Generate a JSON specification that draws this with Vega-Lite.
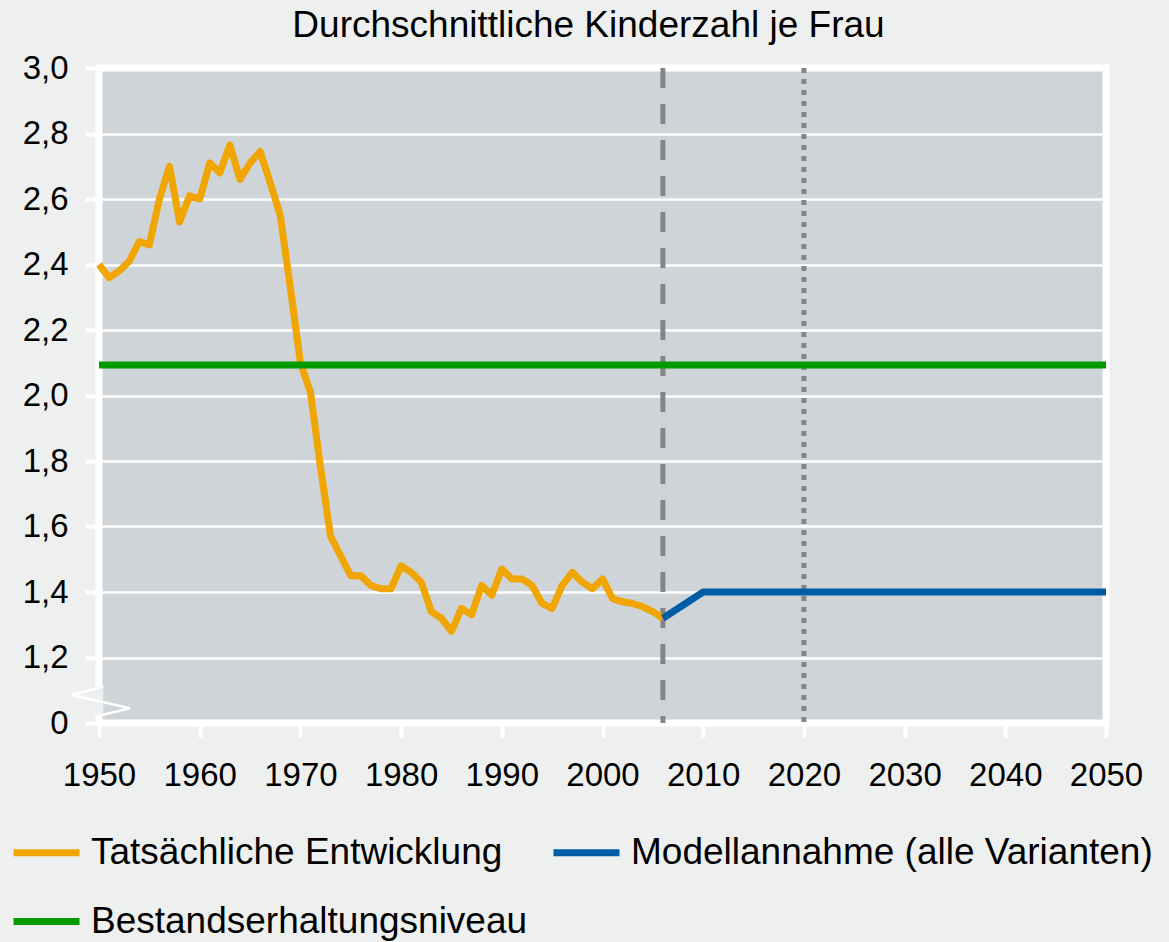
{
  "$schema": "https://vega.github.io/schema/vega-lite/v6.json",
  "width": 1007,
  "height": 655,
  "autosize": {"type": "none"},
  "padding": {"left": 99, "top": 68, "right": 63, "bottom": 219},
  "background": "#EEF0EF",
  "title": {
    "text": "Durchschnittliche Kinderzahl je Frau",
    "fontSize": 37,
    "font": "Liberation Sans",
    "fontWeight": "normal",
    "color": "#000000",
    "anchor": "middle",
    "frame": "group",
    "offset": 7,
    "dx": -14
  },
  "config": {
    "font": "Liberation Sans",
    "view": {"fill": "#CFD4D8", "stroke": "#FFFFFF", "strokeWidth": 7},
    "axis": {"labelFont": "Liberation Sans", "labelColor": "#000000", "title": null}
  },
  "datasets": {
    "series": [
      {"jahr": 1950, "wert": 2.40, "reihe": "Tatsächliche Entwicklung"},
      {"jahr": 1951, "wert": 2.36, "reihe": "Tatsächliche Entwicklung"},
      {"jahr": 1952, "wert": 2.38, "reihe": "Tatsächliche Entwicklung"},
      {"jahr": 1953, "wert": 2.41, "reihe": "Tatsächliche Entwicklung"},
      {"jahr": 1954, "wert": 2.47, "reihe": "Tatsächliche Entwicklung"},
      {"jahr": 1955, "wert": 2.46, "reihe": "Tatsächliche Entwicklung"},
      {"jahr": 1956, "wert": 2.60, "reihe": "Tatsächliche Entwicklung"},
      {"jahr": 1957, "wert": 2.70, "reihe": "Tatsächliche Entwicklung"},
      {"jahr": 1958, "wert": 2.53, "reihe": "Tatsächliche Entwicklung"},
      {"jahr": 1959, "wert": 2.61, "reihe": "Tatsächliche Entwicklung"},
      {"jahr": 1960, "wert": 2.60, "reihe": "Tatsächliche Entwicklung"},
      {"jahr": 1961, "wert": 2.71, "reihe": "Tatsächliche Entwicklung"},
      {"jahr": 1962, "wert": 2.68, "reihe": "Tatsächliche Entwicklung"},
      {"jahr": 1963, "wert": 2.765, "reihe": "Tatsächliche Entwicklung"},
      {"jahr": 1964, "wert": 2.66, "reihe": "Tatsächliche Entwicklung"},
      {"jahr": 1965, "wert": 2.71, "reihe": "Tatsächliche Entwicklung"},
      {"jahr": 1966, "wert": 2.745, "reihe": "Tatsächliche Entwicklung"},
      {"jahr": 1967, "wert": 2.65, "reihe": "Tatsächliche Entwicklung"},
      {"jahr": 1968, "wert": 2.55, "reihe": "Tatsächliche Entwicklung"},
      {"jahr": 1969, "wert": 2.33, "reihe": "Tatsächliche Entwicklung"},
      {"jahr": 1970, "wert": 2.10, "reihe": "Tatsächliche Entwicklung"},
      {"jahr": 1971, "wert": 2.01, "reihe": "Tatsächliche Entwicklung"},
      {"jahr": 1972, "wert": 1.78, "reihe": "Tatsächliche Entwicklung"},
      {"jahr": 1973, "wert": 1.57, "reihe": "Tatsächliche Entwicklung"},
      {"jahr": 1974, "wert": 1.51, "reihe": "Tatsächliche Entwicklung"},
      {"jahr": 1975, "wert": 1.45, "reihe": "Tatsächliche Entwicklung"},
      {"jahr": 1976, "wert": 1.45, "reihe": "Tatsächliche Entwicklung"},
      {"jahr": 1977, "wert": 1.42, "reihe": "Tatsächliche Entwicklung"},
      {"jahr": 1978, "wert": 1.41, "reihe": "Tatsächliche Entwicklung"},
      {"jahr": 1979, "wert": 1.41, "reihe": "Tatsächliche Entwicklung"},
      {"jahr": 1980, "wert": 1.48, "reihe": "Tatsächliche Entwicklung"},
      {"jahr": 1981, "wert": 1.46, "reihe": "Tatsächliche Entwicklung"},
      {"jahr": 1982, "wert": 1.43, "reihe": "Tatsächliche Entwicklung"},
      {"jahr": 1983, "wert": 1.34, "reihe": "Tatsächliche Entwicklung"},
      {"jahr": 1984, "wert": 1.32, "reihe": "Tatsächliche Entwicklung"},
      {"jahr": 1985, "wert": 1.28, "reihe": "Tatsächliche Entwicklung"},
      {"jahr": 1986, "wert": 1.35, "reihe": "Tatsächliche Entwicklung"},
      {"jahr": 1987, "wert": 1.33, "reihe": "Tatsächliche Entwicklung"},
      {"jahr": 1988, "wert": 1.42, "reihe": "Tatsächliche Entwicklung"},
      {"jahr": 1989, "wert": 1.39, "reihe": "Tatsächliche Entwicklung"},
      {"jahr": 1990, "wert": 1.47, "reihe": "Tatsächliche Entwicklung"},
      {"jahr": 1991, "wert": 1.44, "reihe": "Tatsächliche Entwicklung"},
      {"jahr": 1992, "wert": 1.44, "reihe": "Tatsächliche Entwicklung"},
      {"jahr": 1993, "wert": 1.42, "reihe": "Tatsächliche Entwicklung"},
      {"jahr": 1994, "wert": 1.365, "reihe": "Tatsächliche Entwicklung"},
      {"jahr": 1995, "wert": 1.35, "reihe": "Tatsächliche Entwicklung"},
      {"jahr": 1996, "wert": 1.42, "reihe": "Tatsächliche Entwicklung"},
      {"jahr": 1997, "wert": 1.46, "reihe": "Tatsächliche Entwicklung"},
      {"jahr": 1998, "wert": 1.43, "reihe": "Tatsächliche Entwicklung"},
      {"jahr": 1999, "wert": 1.41, "reihe": "Tatsächliche Entwicklung"},
      {"jahr": 2000, "wert": 1.44, "reihe": "Tatsächliche Entwicklung"},
      {"jahr": 2001, "wert": 1.38, "reihe": "Tatsächliche Entwicklung"},
      {"jahr": 2002, "wert": 1.37, "reihe": "Tatsächliche Entwicklung"},
      {"jahr": 2003, "wert": 1.365, "reihe": "Tatsächliche Entwicklung"},
      {"jahr": 2004, "wert": 1.355, "reihe": "Tatsächliche Entwicklung"},
      {"jahr": 2005, "wert": 1.34, "reihe": "Tatsächliche Entwicklung"},
      {"jahr": 2006, "wert": 1.32, "reihe": "Tatsächliche Entwicklung"},
      {"jahr": 2006, "wert": 1.32, "reihe": "Modellannahme (alle Varianten)"},
      {"jahr": 2010, "wert": 1.40, "reihe": "Modellannahme (alle Varianten)"},
      {"jahr": 2050, "wert": 1.40, "reihe": "Modellannahme (alle Varianten)"},
      {"jahr": 1950, "wert": 2.093, "reihe": "Bestandserhaltungsniveau"},
      {"jahr": 2050, "wert": 2.093, "reihe": "Bestandserhaltungsniveau"}
    ],
    "vlines": [
      {"jahr": 2006, "art": "gestrichelt"},
      {"jahr": 2020, "art": "gepunktet"}
    ],
    "bruchflaeche": [
      {"x0": 1949.55, "x1": 1950.42, "y0": 1.019, "y1": 1.112}
    ],
    "bruchlinie": [
      {"x": 1950.43, "y": 1.111},
      {"x": 1947.29, "y": 1.0855},
      {"x": 1953.08, "y": 1.045},
      {"x": 1949.6, "y": 1.019}
    ]
  },
  "layer": [
    {
      "data": {"name": "vlines"},
      "mark": {"type": "rule", "color": "#858585", "strokeWidth": 5},
      "encoding": {
        "x": {
          "field": "jahr",
          "type": "quantitative",
          "scale": {"domain": [1950, 2050], "nice": false, "zero": false},
          "axis": {
            "values": [1950, 1960, 1970, 1980, 1990, 2000, 2010, 2020, 2030, 2040, 2050],
            "format": "d",
            "grid": false,
            "domain": false,
            "tickColor": "#FFFFFF",
            "tickWidth": 4,
            "tickSize": 14,
            "labelFontSize": 33,
            "labelPadding": 22,
            "labelFlush": false,
            "labelOverlap": false
          }
        },
        "strokeDash": {
          "field": "art",
          "type": "nominal",
          "scale": {"domain": ["gestrichelt", "gepunktet"], "range": [[20, 16], [5, 6]]},
          "legend": null
        }
      }
    },
    {
      "data": {"name": "series"},
      "mark": {"type": "line", "strokeWidth": 7, "strokeJoin": "round"},
      "encoding": {
        "x": {"field": "jahr", "type": "quantitative", "scale": {"domain": [1950, 2050], "nice": false, "zero": false}},
        "y": {
          "field": "wert",
          "type": "quantitative",
          "scale": {"domain": [1, 3], "nice": false, "zero": false},
          "axis": {
            "values": [1, 1.2, 1.4, 1.6, 1.8, 2.0, 2.2, 2.4, 2.6, 2.8, 3.0],
            "labelExpr": "datum.value == 1 ? '0' : replace(format(datum.value, '.1f'), '.', ',')",
            "grid": true,
            "gridColor": "#FFFFFF",
            "gridWidth": 2.5,
            "gridOpacity": 1,
            "domain": false,
            "tickColor": "#FFFFFF",
            "tickWidth": 4,
            "tickSize": 14,
            "labelFontSize": 33,
            "labelPadding": 17,
            "labelOverlap": false
          }
        },
        "color": {
          "field": "reihe",
          "type": "nominal",
          "scale": {
            "domain": ["Tatsächliche Entwicklung", "Modellannahme (alle Varianten)", "Bestandserhaltungsniveau"],
            "range": ["#F0A500", "#005DA5", "#009A00"]
          },
          "legend": {
            "title": null,
            "orient": "none",
            "legendX": -89,
            "legendY": 748,
            "direction": "horizontal",
            "columns": 2,
            "symbolType": "stroke",
            "symbolSize": 4356,
            "symbolStrokeWidth": 7,
            "labelFontSize": 37,
            "labelFont": "Liberation Sans",
            "labelColor": "#000000",
            "labelLimit": 800,
            "labelOffset": 8,
            "columnPadding": 11,
            "rowPadding": 14
          }
        }
      }
    },
    {
      "data": {"name": "bruchflaeche"},
      "mark": {"type": "rect", "color": "#EEF0EF"},
      "encoding": {
        "x": {"field": "x0", "type": "quantitative", "scale": {"domain": [1950, 2050], "nice": false, "zero": false}},
        "x2": {"field": "x1"},
        "y": {"field": "y0", "type": "quantitative", "scale": {"domain": [1, 3], "nice": false, "zero": false}},
        "y2": {"field": "y1"}
      }
    },
    {
      "data": {"name": "bruchlinie"},
      "mark": {"type": "line", "color": "#FFFFFF", "strokeWidth": 2.5},
      "encoding": {
        "x": {"field": "x", "type": "quantitative", "scale": {"domain": [1950, 2050], "nice": false, "zero": false}},
        "y": {"field": "y", "type": "quantitative", "scale": {"domain": [1, 3], "nice": false, "zero": false}},
        "order": {"value": null}
      }
    }
  ]
}
